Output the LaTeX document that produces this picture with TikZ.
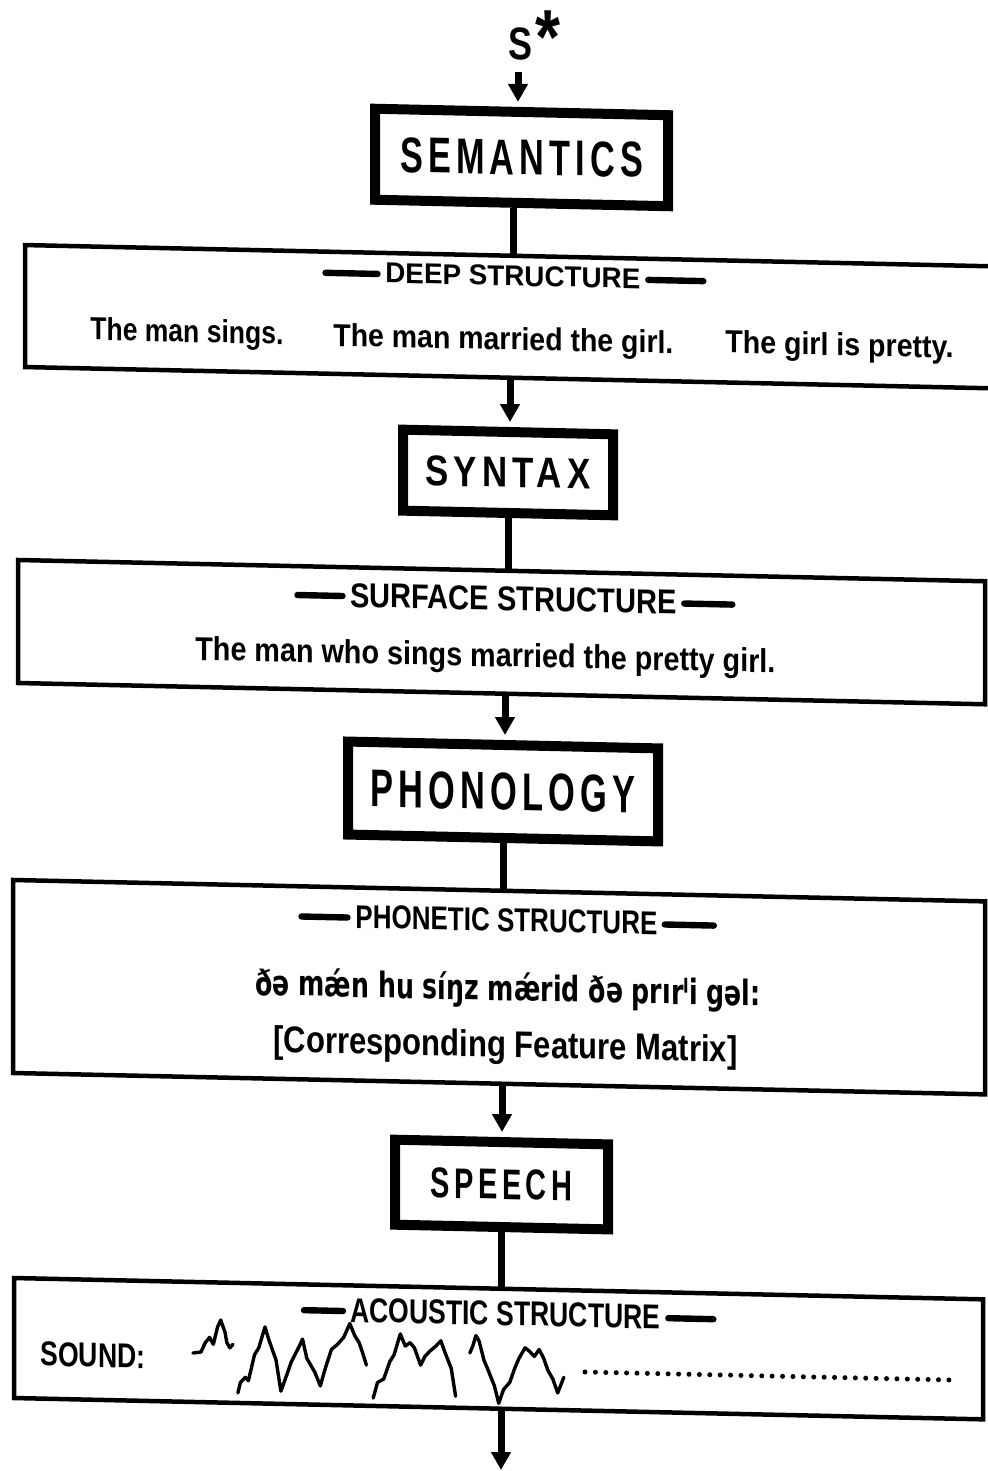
\documentclass[tikz,border=0pt]{standalone}
\usepackage{graphicx}
\usepackage{fontspec}
\setmainfont{Liberation Sans}
\newfontfamily\ipafont{DejaVu Sans}
\newfontfamily\spacedfont[LetterSpace=15]{Liberation Sans}
\usetikzlibrary{arrows.meta,calc}
\newcommand{\fitbox}[3]{\resizebox{#1}{#2}{#3}}
\tikzset{
  bigbox/.style={draw, line width=5pt, inner sep=0pt},
  widebox/.style={draw, line width=2.25pt, inner sep=0pt},
  txtn/.style={inner sep=0pt, anchor=base west},
  bar/.style={line width=3.2pt, line cap=round},
  link/.style={line width=3.5pt},
  arrowlink/.style={link, -{Triangle[width=9.5pt,length=9pt]}},
  wave/.style={line width=1.7pt, line join=round, line cap=round},
  dots/.style={line width=2.5pt, line cap=round, dash pattern=on 0pt off 5.2pt}
}
\begin{document}
\begin{tikzpicture}[x=0.5pt,y=-0.5pt]
\useasboundingbox (0,0) rectangle (987,1471);
\fill[white] (0,0) rectangle (987,1471);
\begin{scope}[yslant=-0.022, transform shape]
  % start symbol
  \node[txtn] (sstar) at (508,48.8) {\fitbox{12pt}{16pt}{\bfseries S}\hspace{1.5pt}\raisebox{-1.5pt}{\fitbox{12.5pt}{26.5pt}{\bfseries *}}};
  % thick boxes
  \node[bigbox, minimum width=146.5pt, minimum height=45.5pt] (sem) at (521.5,146) {\fitbox{121.5pt}{17.5pt}{\spacedfont\bfseries SEMANTICS}};
  \node[bigbox, minimum width=105pt, minimum height=40.5pt] (syn) at (508,461.3) {\fitbox{82.5pt}{15pt}{\spacedfont\bfseries SYNTAX}};
  \node[bigbox, minimum width=155pt, minimum height=46.5pt] (pho) at (503,780.4) {\fitbox{132.5pt}{18.5pt}{\spacedfont\bfseries PHONOLOGY}};
  \node[bigbox, minimum width=106.5pt, minimum height=42.5pt] (spe) at (501.5,1173.5) {\fitbox{70.5pt}{15pt}{\spacedfont\bfseries SPEECH}};
  % wide boxes
  \node[widebox, minimum width=490pt, minimum height=61pt] (deep) at (515,305.5) {};
  \node[widebox, minimum width=483.5pt, minimum height=61.5pt] (surf) at (501.5,621.1) {};
  \node[widebox, minimum width=486pt, minimum height=96.5pt] (phon) at (499,976.2) {};
  \node[widebox, minimum width=484.5pt, minimum height=60pt] (ac) at (498.5,1337.7) {};
  % headings
  \node[txtn] (dh) at (385,274.5) {\fitbox{127.5pt}{10pt}{\bfseries DEEP STRUCTURE}};
  \node[txtn] (sh) at (350,599.3) {\fitbox{163pt}{12pt}{\bfseries SURFACE STRUCTURE}};
  \node[txtn] (ph) at (355,920.2) {\fitbox{151pt}{11.5pt}{\bfseries PHONETIC STRUCTURE}};
  \node[txtn] (ah) at (350,1314.3) {\fitbox{155pt}{12pt}{\bfseries ACOUSTIC STRUCTURE}};
  \draw[bar] ($(dh.west)+(-7.5,1)$) -- ++(-52,0);
  \draw[bar] ($(dh.east)+(7.5,1)$) -- ++(55,0);
  \draw[bar] ($(sh.west)+(-7.5,1)$) -- ++(-45,0);
  \draw[bar] ($(sh.east)+(7.5,1)$) -- ++(48,0);
  \draw[bar] ($(ph.west)+(-7.5,1)$) -- ++(-46,0);
  \draw[bar] ($(ph.east)+(7,1)$) -- ++(49,0);
  \draw[bar] ($(ah.west)+(-7,1)$) -- ++(-39,0);
  \draw[bar] ($(ah.east)+(7.5,1)$) -- ++(45,0);
  % contents
  \node[txtn] (d1) at (90,338) {\fitbox{96.5pt}{11.5pt}{\bfseries The man sings.}};
  \node[txtn] (d2) at (333,338.7) {\fitbox{170pt}{11.5pt}{\bfseries The man married the girl.}};
  \node[txtn] (d3) at (725,337) {\fitbox{114pt}{11.5pt}{\bfseries The girl is pretty.}};
  \node[txtn] (s1) at (195,655.7) {\fitbox{290pt}{12pt}{\bfseries The man who sings married the pretty girl.}};
  \node[txtn] (p1) at (255,989.4) {\fitbox{252.5pt}{14pt}{\ipafont\bfseries ðə mǽn hu síŋz mǽrid ðə prırˡi gəl:}};
  \node[txtn] (p2) at (273,1046) {\fitbox{232pt}{13.5pt}{\bfseries [Corresponding Feature Matrix]}};
  \node[txtn] (snd) at (40,1365) {\fitbox{52.5pt}{12pt}{\bfseries SOUND:}};
  % connectors
  \draw[arrowlink] ($(sem.north |- sstar.south)+(-3.5,8)$) -- ($(sem.north)+(-3.5,-5)$);
  \coordinate (k1) at ($(sem.south)+(-8.5,0)$);
  \draw[link] (k1) -- (k1 |- deep.north);
  \coordinate (k2) at ($(syn.north)+(2,-5)$);
  \draw[arrowlink] (k2 |- deep.south) -- (k2);
  \draw[link] (syn.south) -- (syn.south |- surf.north);
  \coordinate (k4) at ($(pho.north)+(2,-5)$);
  \draw[arrowlink] (k4 |- surf.south) -- (k4);
  \draw[link] (pho.south) -- (pho.south |- phon.north);
  \coordinate (k6) at ($(spe.north)+(0.5,-5)$);
  \draw[arrowlink] (k6 |- phon.south) -- (k6);
  \draw[link] (spe.south) -- (spe.south |- ac.north);
  \coordinate (out) at (501,1459);
  \draw[arrowlink] (out |- ac.south) -- (out);
\end{scope}
% sound wave
\draw[wave] (193,1353) -- (201,1352) -- (205.3,1342.6) -- (209.6,1337.4) -- (213.3,1344.3) -- (217.6,1327) -- (220.7,1320) -- (225,1332.1) -- (226.8,1342.6) -- (229.9,1347.8) -- (233,1344.3);
\draw[wave] (237.9,1392.9) -- (240.4,1382.5) -- (245.3,1377.3) -- (248.4,1380.7) -- (254.5,1354.7) -- (258.8,1347.8) -- (265,1326.9) -- (268.6,1339.1) -- (271.7,1347.8) -- (276,1359.9) -- (280.9,1391.1) -- (285.3,1379) -- (291.4,1361.6) -- (299.4,1346) -- (302.5,1339.1) -- (306.8,1358.2) -- (311.7,1366.8) -- (314.8,1372.1) -- (320.3,1385.9) -- (325.2,1368.6) -- (331.4,1349.5) -- (337.5,1344.3) -- (343.7,1337.4) -- (349.8,1323.5) -- (354.7,1335.6) -- (359.1,1342.6) -- (362.1,1351.2) -- (366.4,1365.1);
\draw[wave] (373.2,1398.1) -- (377.5,1382.5) -- (383.7,1379) -- (389.8,1361.6) -- (394.1,1354.7) -- (400.3,1333.9) -- (405.2,1346) -- (410.1,1342.6) -- (414.4,1347.8) -- (420.6,1365.1) -- (424.9,1356.4) -- (429.8,1351.2) -- (435.9,1346) -- (440.8,1340.8) -- (445.2,1353) -- (451.3,1368.6) -- (455.6,1396.3);
\draw[wave] (469.8,1353) -- (472.8,1346) -- (475.9,1335.6) -- (479,1340.8) -- (483.9,1359.9) -- (488.2,1370.3) -- (494.4,1385.9) -- (498.7,1403.3) -- (503.6,1389.4) -- (509.7,1382.5) -- (514.6,1368.6) -- (519,1358.2) -- (525.1,1347.8) -- (529.4,1351.2) -- (534.3,1356.4) -- (539.2,1349.5) -- (543.6,1358.2) -- (547.9,1370.3) -- (552.8,1379) -- (557.7,1392.9) -- (563.8,1377.3);
\draw[dots] (585,1372) -- (952,1380);
\end{tikzpicture}
\end{document}
